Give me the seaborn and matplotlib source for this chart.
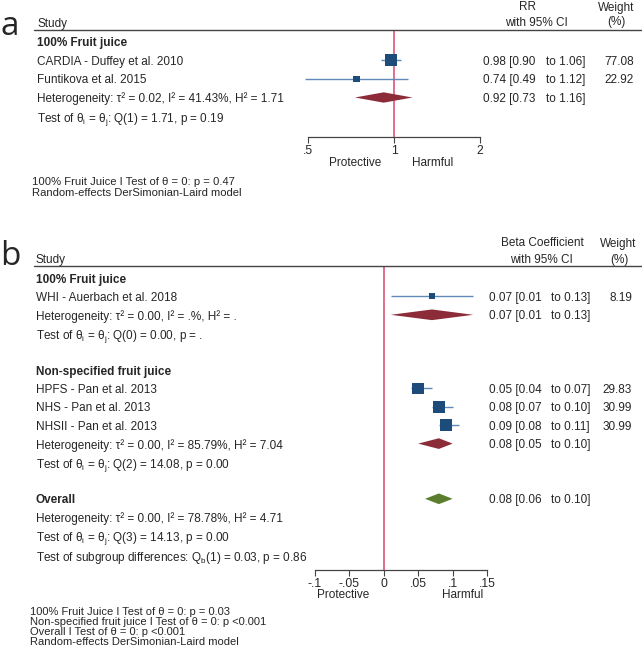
import numpy as np
import pandas as pd
import matplotlib
matplotlib.use('Agg')
import matplotlib.pyplot as plt
import matplotlib.transforms as mtransforms
from matplotlib.lines import Line2D
import seaborn as sns

# panel a data (RR)
a_studies = ['CARDIA - Duffey et al. 2010', 'Funtikova et al. 2015']
a_est = [0.98, 0.74]
a_lo = [0.90, 0.49]
a_hi = [1.06, 1.12]
a_weight = [77.08, 22.92]
a_pooled = [0.92, 0.73, 1.16]

# panel b data (beta coefficients)
b_studies = ['WHI - Auerbach et al. 2018', 'HPFS - Pan et al. 2013',
             'NHS - Pan et al. 2013', 'NHSII - Pan et al. 2013']
b_est = [0.07, 0.05, 0.08, 0.09]
b_lo = [0.01, 0.04, 0.07, 0.08]
b_hi = [0.13, 0.07, 0.10, 0.11]
b_weight = [8.19, 29.83, 30.99, 30.99]
b_pooled_fj = [0.07, 0.01, 0.13]
b_pooled_ns = [0.08, 0.05, 0.10]
b_overall = [0.08, 0.06, 0.10]

sns.set_style('white')
plt.rcParams['font.family'] = ['Liberation Sans', 'DejaVu Sans']
plt.rcParams['mathtext.fontset'] = 'custom'
plt.rcParams['mathtext.rm'] = 'Liberation Sans'
plt.rcParams['mathtext.it'] = 'Liberation Sans:italic'
plt.rcParams['mathtext.bf'] = 'Liberation Sans:bold'

W, H = 642, 651
fig = plt.figure(figsize=(W / 100, H / 100), dpi=100)

FS = 8.5
VA = 'center_baseline'
SQ = '#1d4b7a'
CI = '#5f89b8'
RED = '#d9476d'
MAROON = '#8c2c38'
GREEN = '#5b7d2e'
GRID = '#444444'


def make_ax(x0, x1, y0, y1):
    return fig.add_axes([x0 / W, 1 - y1 / H, (x1 - x0) / W, (y1 - y0) / H])


def px_y(ax, r0, step, ytop, ybot):
    # rows: row r sits at pixel r0 + step*r
    ax.set_ylim((ybot - r0) / step, (ytop - r0) / step)


def hline(y):
    fig.add_artist(Line2D([34 / W, 1.0], [1 - y / H, 1 - y / H],
                          transform=fig.transFigure, color=GRID, lw=1.0))


def diamond(ax, est, lo, hi, row, color, hh=0.29):
    ax.fill([lo, est, hi, est], [row, row - hh, row, row + hh],
            color=color, lw=0, clip_on=False, zorder=3)


def ftext(x, y, s, **kw):
    kw.setdefault('va', VA)
    kw.setdefault('fontsize', FS)
    fig.text(x / W, 1 - y / H, s, **kw)


def style_axis(ax, ticks, labels, bounds):
    for s in ['top', 'right', 'left']:
        ax.spines[s].set_visible(False)
    ax.spines['bottom'].set_color(GRID)
    ax.spines['bottom'].set_linewidth(0.9)
    ax.spines['bottom'].set_bounds(*bounds)
    ax.set_xticks(ticks)
    ax.set_xticklabels(labels)
    ax.minorticks_off()
    ax.tick_params(axis='x', direction='out', length=4, width=0.8, color=GRID,
                   labelsize=FS + 0.3, pad=1.5, bottom=True)
    ax.set_yticks([])
    ax.set_xlabel('')
    ax.set_ylabel('')
    ax.patch.set_alpha(0)


# ---------------- panel a ----------------
ax_a = make_ax(308, 480, 30, 137)
ax_a.set_xscale('log')
ax_a.set_xlim(0.5, 2)
px_y(ax_a, 42, 18.5, 30, 137)
ax_a.axvline(1, color=RED, lw=1.1, zorder=1)

a_rows = [1, 2]
ax_a.hlines(a_rows, a_lo, a_hi, color=CI, lw=1.0, clip_on=False, zorder=2)
df_a = pd.DataFrame({'est': a_est, 'row': a_rows,
                     'area': [(12 * np.sqrt(w / 77.08) * 0.72) ** 2 for w in a_weight]})
sns.scatterplot(data=df_a, x='est', y='row', ax=ax_a, marker='s', color=SQ,
                s=df_a['area'].values, linewidth=0, clip_on=False, zorder=3, legend=False)
diamond(ax_a, a_pooled[0], a_pooled[1], a_pooled[2], 3, MAROON, hh=0.28)
style_axis(ax_a, [0.5, 1, 2], ['.5', '1', '2'], (0.5, 2))
ftext(355, 162, 'Protective', ha='center')
ftext(433, 162, 'Harmful', ha='center')

tr_a = mtransforms.blended_transform_factory(fig.transFigure, ax_a.transData)
a_left = [('100% Fruit juice', 'bold'), (a_studies[0], 'normal'), (a_studies[1], 'normal'),
          ('Heterogeneity: τ² = 0.02, I² = 41.43%, H² = 1.71', 'normal'),
          (r'Test of θ$_\mathregular{i}$ = θ$_\mathregular{j}$: Q(1) = 1.71, p = 0.19', 'normal')]
for r, (t, wgt) in enumerate(a_left):
    ax_a.text(37 / W, r, t, transform=tr_a, ha='left', va=VA, fontsize=FS, fontweight=wgt)
a_right = [(a_est[0], a_lo[0], a_hi[0], a_weight[0]), (a_est[1], a_lo[1], a_hi[1], a_weight[1]),
           (a_pooled[0], a_pooled[1], a_pooled[2], None)]
for r, (e, lo, hi, w) in enumerate(a_right, start=1):
    ax_a.text(483 / W, r, f'{e:.2f} [{lo:.2f}', transform=tr_a, ha='left', va=VA, fontsize=FS)
    ax_a.text(546 / W, r, f'to {hi:.2f}]', transform=tr_a, ha='left', va=VA, fontsize=FS)
    if w is not None:
        ax_a.text(634 / W, r, f'{w:.2f}', transform=tr_a, ha='right', va=VA, fontsize=FS)

ftext(37, 22, 'Study', ha='left')
ftext(527, 6, 'RR', ha='center')
ftext(536, 21, 'with 95% CI', ha='center')
ftext(616, 6, 'Weight', ha='center')
ftext(616, 21, '(%)', ha='center')
hline(30)
ftext(0, 35, 'a', ha='left', va='baseline', fontsize=24, family=['Open Sans', 'DejaVu Sans'])
ftext(32, 181, '100% Fruit Juice I Test of θ = 0: p = 0.47', ha='left', fontsize=8.1)
ftext(32, 192, 'Random-effects DerSimonian-Laird model', ha='left', fontsize=8.1)

# ---------------- panel b ----------------
ax_b = make_ax(315, 487, 266, 570)
ax_b.set_xlim(-0.1, 0.15)
px_y(ax_b, 278, 18.4, 266, 570)
ax_b.axvline(0, color=RED, lw=1.1, zorder=1)

b_rows = [1, 6, 7, 8]
ax_b.hlines(b_rows, b_lo, b_hi, color=CI, lw=1.0, clip_on=False, zorder=2)
df_b = pd.DataFrame({'est': b_est, 'row': b_rows,
                     'area': [(6 * np.sqrt(w / 8.19) * 0.72) ** 2 for w in b_weight]})
sns.scatterplot(data=df_b, x='est', y='row', ax=ax_b, marker='s', color=SQ,
                s=df_b['area'].values, linewidth=0, clip_on=False, zorder=3, legend=False)
diamond(ax_b, b_pooled_fj[0], b_pooled_fj[1], b_pooled_fj[2], 2, MAROON)
diamond(ax_b, b_pooled_ns[0], b_pooled_ns[1], b_pooled_ns[2], 9, MAROON)
diamond(ax_b, b_overall[0], b_overall[1], b_overall[2], 12, GREEN)
style_axis(ax_b, [-0.1, -0.05, 0, 0.05, 0.1, 0.15],
           ['-.1', '-.05', '0', '.05', '.1', '.15'], (-0.1, 0.15))
ftext(343, 593, 'Protective', ha='center')
ftext(463, 593, 'Harmful', ha='center')

tr_b = mtransforms.blended_transform_factory(fig.transFigure, ax_b.transData)
b_left = {0: ('100% Fruit juice', 'bold'), 1: (b_studies[0], 'normal'),
          2: ('Heterogeneity: τ² = 0.00, I² = .%, H² = .', 'normal'),
          3: (r'Test of θ$_\mathregular{i}$ = θ$_\mathregular{j}$: Q(0) = 0.00, p = .', 'normal'),
          5: ('Non-specified fruit juice', 'bold'), 6: (b_studies[1], 'normal'),
          7: (b_studies[2], 'normal'), 8: (b_studies[3], 'normal'),
          9: ('Heterogeneity: τ² = 0.00, I² = 85.79%, H² = 7.04', 'normal'),
          10: (r'Test of θ$_\mathregular{i}$ = θ$_\mathregular{j}$: Q(2) = 14.08, p = 0.00', 'normal'),
          12: ('Overall', 'bold'),
          13: ('Heterogeneity: τ² = 0.00, I² = 78.78%, H² = 4.71', 'normal'),
          14: (r'Test of θ$_\mathregular{i}$ = θ$_\mathregular{j}$: Q(3) = 14.13, p = 0.00', 'normal'),
          15.1: (r'Test of subgroup differences: Q$_\mathregular{b}$(1) = 0.03, p = 0.86', 'normal')}
for r, (t, wgt) in b_left.items():
    ax_b.text(36 / W, r, t, transform=tr_b, ha='left', va=VA, fontsize=FS, fontweight=wgt)
b_right = [(1, b_est[0], b_lo[0], b_hi[0], b_weight[0]),
           (2, *b_pooled_fj, None),
           (6, b_est[1], b_lo[1], b_hi[1], b_weight[1]),
           (7, b_est[2], b_lo[2], b_hi[2], b_weight[2]),
           (8, b_est[3], b_lo[3], b_hi[3], b_weight[3]),
           (9, *b_pooled_ns, None),
           (12, *b_overall, None)]
for r, e, lo, hi, w in b_right:
    ax_b.text(489 / W, r, f'{e:.2f} [{lo:.2f}', transform=tr_b, ha='left', va=VA, fontsize=FS)
    ax_b.text(551 / W, r, f'to {hi:.2f}]', transform=tr_b, ha='left', va=VA, fontsize=FS)
    if w is not None:
        ax_b.text(632 / W, r, f'{w:.2f}', transform=tr_b, ha='right', va=VA, fontsize=FS)

ftext(36, 258, 'Study', ha='left')
ftext(542, 242, 'Beta Coefficient', ha='center')
ftext(541, 258, 'with 95% CI', ha='center')
ftext(618, 242, 'Weight', ha='center')
ftext(619, 258, '(%)', ha='center')
hline(266)
ftext(0, 265, 'b', ha='left', va='baseline', fontsize=24, family=['Open Sans', 'DejaVu Sans'])
b_notes = ['100% Fruit Juice I Test of θ = 0: p = 0.03',
           'Non-specified fruit juice I Test of θ = 0: p <0.001',
           'Overall I Test of θ = 0: p <0.001',
           'Random-effects DerSimonian-Laird model']
for i, t in enumerate(b_notes):
    ftext(30, 611 + 10 * i, t, ha='left', fontsize=8.0)

fig.savefig('out.png', dpi=100)
